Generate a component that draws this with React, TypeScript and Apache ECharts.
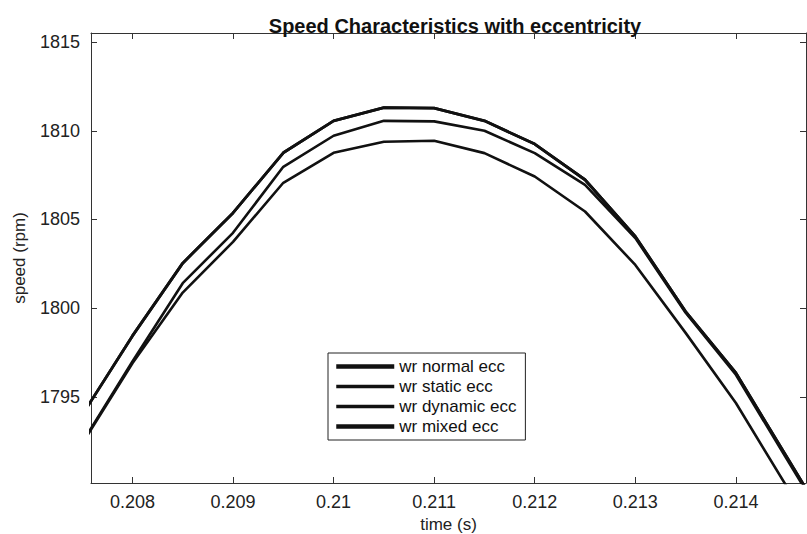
import React, { useEffect, useRef } from "react";
import * as echarts from "echarts";

const times = [0.2075, 0.208, 0.2085, 0.209, 0.2095, 0.21, 0.2105, 0.211, 0.2115, 0.212, 0.2125, 0.213, 0.2135, 0.214, 0.2145, 0.215];
const wrNormal = [1793.98, 1798.44, 1802.54, 1805.37, 1808.76, 1810.56, 1811.3, 1811.28, 1810.56, 1809.25, 1807.24, 1804.04, 1799.81, 1796.35, 1791.67, 1787.0];
const wrStatic = [1792.42, 1797.0, 1801.41, 1804.25, 1807.97, 1809.72, 1810.56, 1810.53, 1810.0, 1808.74, 1806.95, 1803.95, 1799.75, 1796.25, 1791.55, 1786.9];
const wrDynamic = [1792.36, 1796.9, 1800.88, 1803.74, 1807.07, 1808.76, 1809.38, 1809.44, 1808.74, 1807.42, 1805.45, 1802.44, 1798.61, 1794.66, 1790.0, 1785.5];
const wrMixed = [1793.98, 1798.44, 1802.54, 1805.37, 1808.76, 1810.56, 1811.3, 1811.28, 1810.56, 1809.25, 1807.24, 1804.04, 1799.81, 1796.35, 1791.67, 1787.0];
const seriesNames = ["wr normal ecc", "wr static ecc", "wr dynamic ecc", "wr mixed ecc"];
const xTickValues = [0.208, 0.209, 0.21, 0.211, 0.212, 0.213, 0.214];
const yTickValues = [1795, 1800, 1805, 1810, 1815];

const X_MIN = 0.207588;
const X_MAX = 0.214697;
const Y_MIN = 1790.15;
const Y_MAX = 1815.51;

const FONT = "'Liberation Sans', Arial, sans-serif";

export default function App() {
  const ref = useRef<HTMLDivElement>(null);
  useEffect(() => {
    document.body.style.margin = "0";
    if (!ref.current) return;
    const chart = echarts.init(ref.current, null, { renderer: "svg" });
    const all = [wrNormal, wrStatic, wrDynamic, wrMixed];
    const widths = [2.8, 2.6, 2.6, 2.8];
    const legendWidths = [4.5, 3.5, 3.5, 4.5];
    const isTick = (v: number, list: number[]) => list.some((t) => Math.abs(t - v) < 1e-7);
    const axisLine = { show: true, lineStyle: { color: "#333", width: 1 } };
    const tick = { show: true, inside: true, length: 6, lineStyle: { color: "#333" } };
    chart.setOption({
      animation: false,
      backgroundColor: "#ffffff",
      title: {
        text: "Speed Characteristics with eccentricity",
        left: 450,
        top: 11,
        textAlign: "center",
        textStyle: { fontFamily: FONT, fontSize: 20, fontWeight: "bold", color: "#111" },
      },
      legend: {
        orient: "vertical",
        left: 328,
        top: 353,
        itemWidth: 58,
        itemHeight: 12,
        itemGap: 3,
        padding: [5, 9, 5, 6],
        borderColor: "#222",
        borderWidth: 1,
        backgroundColor: "#ffffff",
        itemStyle: { opacity: 0, borderWidth: 0 },
        textStyle: { fontFamily: FONT, fontSize: 17, color: "#111", lineHeight: 17 },
        data: seriesNames.map((n, i) => ({ name: n, itemStyle: { opacity: 0, borderWidth: 0 }, lineStyle: { width: legendWidths[i], color: "#111", opacity: 1 } })),
      },
      grid: { left: 91, right: 1, top: 33, bottom: 51, containLabel: false, outerBoundsMode: "none" },
      xAxis: [
        {
          type: "value",
          min: X_MIN,
          max: X_MAX,
          splitNumber: 7,
          name: "time (s)",
          nameLocation: "middle",
          nameGap: 30,
          nameTextStyle: { fontFamily: FONT, fontSize: 17, color: "#222" },
          axisLine,
          axisTick: tick,
          splitLine: { show: false },
          axisLabel: {
            margin: 10,
            fontFamily: FONT,
            fontSize: 18,
            color: "#222",
            showMinLabel: false,
            showMaxLabel: false,
            formatter: (v: number) => (isTick(v, xTickValues) ? String(parseFloat(v.toFixed(3))) : ""),
          },
        },
        {
          type: "value",
          position: "top",
          min: X_MIN,
          max: X_MAX,
          splitNumber: 7,
          axisLine,
          axisTick: tick,
          axisLabel: { show: false },
          splitLine: { show: false },
        },
      ],
      yAxis: [
        {
          type: "value",
          min: Y_MIN,
          max: Y_MAX,
          splitNumber: 5,
          name: "speed (rpm)",
          nameLocation: "middle",
          nameGap: 63,
          nameTextStyle: { fontFamily: FONT, fontSize: 17, color: "#222" },
          axisLine,
          axisTick: tick,
          splitLine: { show: false },
          axisLabel: {
            margin: 11,
            fontFamily: FONT,
            fontSize: 18,
            color: "#222",
            showMinLabel: false,
            showMaxLabel: false,
            formatter: (v: number) => (isTick(v, yTickValues) ? String(Math.round(v)) : ""),
          },
        },
        {
          type: "value",
          position: "right",
          min: Y_MIN,
          max: Y_MAX,
          splitNumber: 5,
          axisLine,
          axisTick: tick,
          axisLabel: { show: false },
          splitLine: { show: false },
        },
      ],
      series: all.map((vals, i) => ({
        name: seriesNames[i],
        type: "line",
        xAxisIndex: 0,
        yAxisIndex: 0,
        symbol: "none",
        clip: true,
        lineStyle: { color: "#111", width: widths[i] },
        itemStyle: { color: "#111" },
        data: times.map((t, j) => [t, vals[j]]),
        z: 2,
      })),
    });
    return () => chart.dispose();
  }, []);
  return <div ref={ref} style={{ width: 807, height: 534 }} />;
}
